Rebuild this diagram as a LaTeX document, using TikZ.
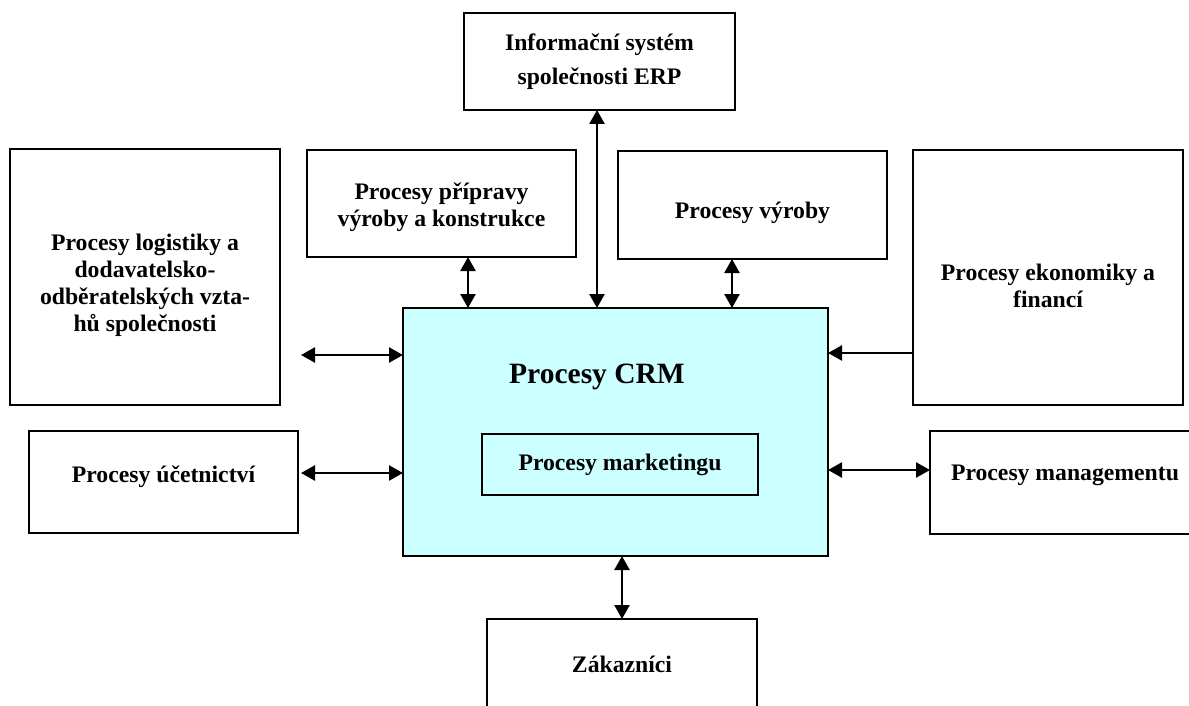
\documentclass[tikz,border=0pt]{standalone}
\usepackage{fontspec}
\setmainfont{Liberation Serif}
\usetikzlibrary{arrows.meta}
\definecolor{crmfill}{RGB}{204,255,255}
\begin{document}
\begin{tikzpicture}[x=1pt,y=-1pt,
  txt/.style={font=\fontsize{23.7}{27}\selectfont\bfseries, align=center, inner sep=0pt},
  box/.style={draw, line width=1.8pt, inner sep=0pt, outer sep=0pt},
  link/.style={line width=2.5pt, {Triangle[length=14pt,width=15pt]}-{Triangle[length=14pt,width=15pt]}},
  onelink/.style={line width=2.5pt, -{Triangle[length=14pt,width=15pt]}}
]
\useasboundingbox (0,0) rectangle (1189,706);
\clip (0,0) rectangle (1189,706);

% central CRM block
\node[box, fill=crmfill, minimum width=425pt, minimum height=248pt] (crm) at (615.5,432) {};
\node[txt, font=\fontsize{29.5}{34}\selectfont\bfseries] (crmt) at (597,377) {Procesy CRM};
\node[box, minimum width=276pt, minimum height=61pt] (mark) at (620,464.5) {};
\node[txt] (markt) at (mark) {Procesy marketingu};

% surrounding process blocks
\node[box, minimum width=271pt, minimum height=97pt] (erp) at (599.5,61.5) {};
\node[txt, font=\fontsize{23.7}{34}\selectfont\bfseries] (erpt) at (erp) {Informační systém\\společnosti ERP};

\node[box, minimum width=269pt, minimum height=107pt] (prip) at (441.5,203.5) {};
\node[txt, yshift=-4pt] (pript) at (prip) {Procesy přípravy\\výroby a konstrukce};

\node[box, minimum width=269pt, minimum height=108pt] (vyr) at (752.5,205) {};
\node[txt, yshift=-8pt] (vyrt) at (vyr) {Procesy výroby};

\node[box, minimum width=270pt, minimum height=256pt] (log) at (145,277) {};
\node[txt, yshift=-8pt] (logt) at (log)
  {Procesy logistiky a\\dodavatelsko-\\odběratelských vzta-\\hů společnosti};

\node[box, minimum width=270pt, minimum height=255pt] (ekon) at (1048,277.5) {};
\node[txt, yshift=-8pt] (ekont) at (ekon) {Procesy ekonomiky a\\financí};

\node[box, minimum width=269pt, minimum height=102pt] (uce) at (163.5,482) {};
\node[txt, yshift=5pt] (ucet) at (uce) {Procesy účetnictví};

\node[box, minimum width=270pt, minimum height=103pt] (mgmt) at (1065,482.5) {};
\node[txt, yshift=7pt] (mgmtt) at (mgmt) {Procesy managementu};

\node[box, minimum width=270pt, minimum height=90pt] (zak) at (622,664) {};
\node[txt] (zakt) at (zak) {Zákazníci};

% connector positions
\coordinate (l1) at (301,355);
\coordinate (l2) at (301,473);
\coordinate (e1) at (913,353);
\coordinate (m1) at (0,470);
\coordinate (v1) at (468,0);
\coordinate (v2) at (597,0);
\coordinate (v3) at (732,0);
\coordinate (v4) at (622,0);

% connectors
\draw[link] (l1) -- (l1 -| crm.west);
\draw[link] (l2) -- (l2 -| crm.west);
\draw[onelink] (ekon.west |- e1) -- (e1 -| crm.east);
\draw[link] (crm.east |- m1) -- (mgmt.west |- m1);
\draw[link] (prip.south -| v1) -- (crm.north -| v1);
\draw[link] (erp.south -| v2) -- (crm.north -| v2);
\draw[link] (vyr.south -| v3) -- (crm.north -| v3);
\draw[link] (crm.south -| v4) -- (zak.north -| v4);
\end{tikzpicture}
\end{document}
